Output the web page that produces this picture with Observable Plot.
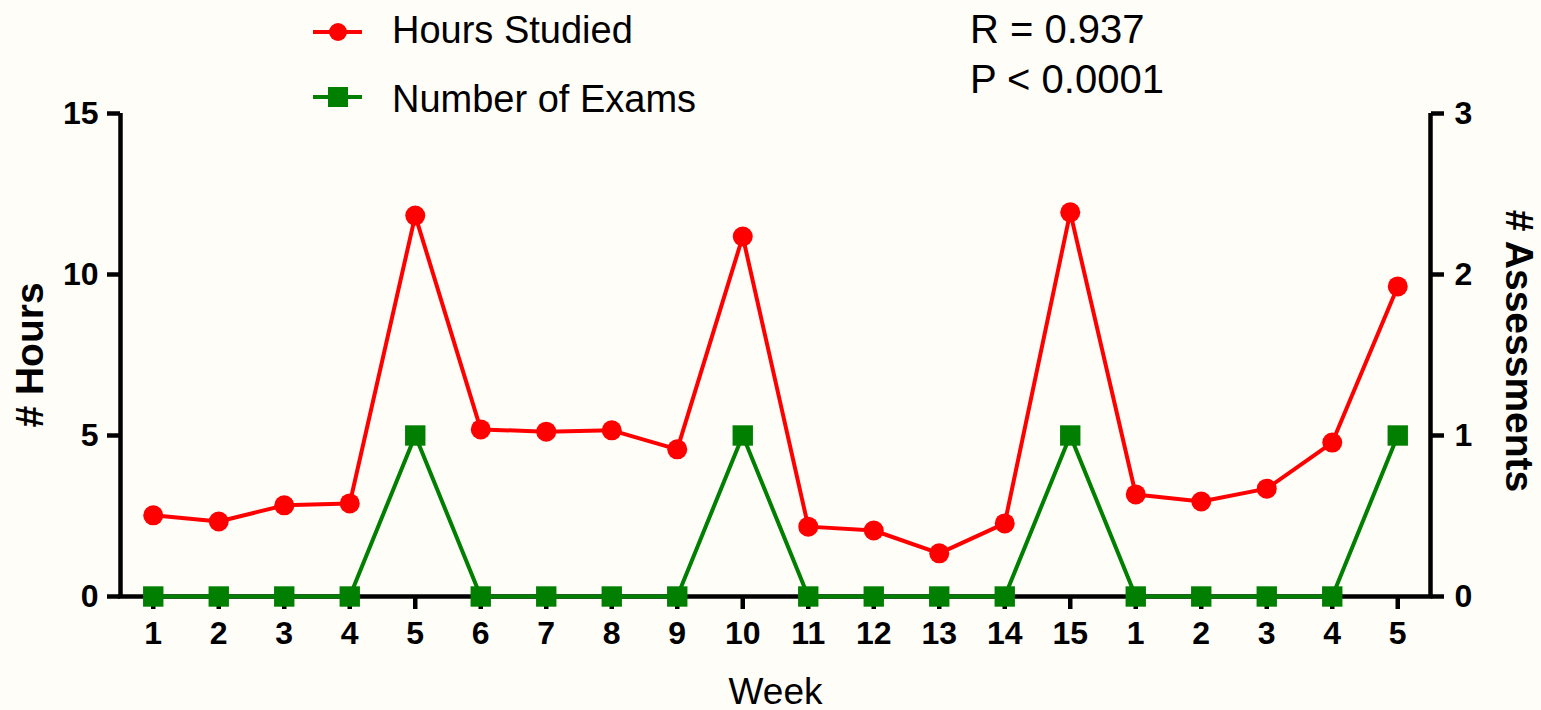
<!DOCTYPE html>
<html>
<head>
<meta charset="utf-8">
<script src="https://cdn.jsdelivr.net/npm/d3@7"></script>
<script src="https://cdn.jsdelivr.net/npm/@observablehq/plot@0.6"></script>
<style>
  html, body { margin: 0; padding: 0; background: #fffdf8; }
  #wrap { position: relative; width: 1541px; height: 710px; font-family: "Liberation Sans", Arial, sans-serif; }
  #chart svg { display: block; }
  .lg { position: absolute; font-size: 38px; color: #000; white-space: nowrap; line-height: 1; }
  .st { font-size: 40px; }
  #legendSvg { position: absolute; left: 0; top: 0; }
</style>
</head>
<body>
<div id="wrap">
  <div id="chart"></div>
  <svg id="legendSvg" width="400" height="130"></svg>
  <div class="lg" id="lg1" style="left:392px; top:11px;">Hours Studied</div>
  <div class="lg" id="lg2" style="left:392px; top:80px;">Number of Exams</div>
  <div class="lg st" id="st1" style="left:970px; top:9px;">R = 0.937</div>
  <div class="lg st" id="st2" style="left:970px; top:59px;">P &lt; 0.0001</div>
</div>
<script>
// ---- data ----
const weeks = ["1","2","3","4","5","6","7","8","9","10","11","12","13","14","15","1","2","3","4","5"];
const hoursStudied = [2.52, 2.33, 2.83, 2.89, 11.83, 5.19, 5.12, 5.16, 4.57, 11.18, 2.17, 2.05, 1.34, 2.27, 11.93, 3.17, 2.95, 3.35, 4.78, 9.63];
const numberOfExams = [0, 0, 0, 0, 1, 0, 0, 0, 0, 1, 0, 0, 0, 0, 1, 0, 0, 0, 0, 1];
const hoursTicks = [0, 5, 10, 15];
const examTicks = [0, 1, 2, 3];
const hoursPerExam = 5; // right axis (0–3) shares the left axis (0–15)

const data = weeks.map((w, i) => ({ i: i + 1, week: w, hours: hoursStudied[i], exams: numberOfExams[i] * hoursPerExam }));
const n = weeks.length;

const RED = "#ff0000";
const GREEN = "#007f00";
const AX = 4.5;

const chart = Plot.plot({
  width: 1541,
  height: 710,
  marginLeft: 120,
  marginRight: 111,
  marginTop: 113,
  marginBottom: 114,
  style: { background: "transparent", fontFamily: "Liberation Sans, Arial, sans-serif", overflow: "visible", color: "#000" },
  x: { domain: [0.5, n + 0.5], axis: null },
  y: { domain: [0, 15], axis: null },
  marks: [
    // axis lines
    Plot.ruleX([0.5, n + 0.5], { y1: 0, y2: 15, stroke: "#000", strokeWidth: AX }),
    Plot.ruleY([0], { x1: 0.5 - 0.035, x2: n + 0.5 + 0.035, stroke: "#000", strokeWidth: AX }),
    // left axis
    Plot.axisY({ anchor: "left", ticks: hoursTicks, tickSize: 13, tickPadding: 9, strokeWidth: AX, fontSize: 32, fontWeight: "bold", label: null }),
    // right axis
    Plot.axisY({ anchor: "right", ticks: examTicks.map(d => d * hoursPerExam), tickFormat: d => String(d / hoursPerExam), tickSize: 13, tickPadding: 11, strokeWidth: AX, fontSize: 32, fontWeight: "bold", label: null }),
    // bottom axis
    Plot.axisX({ anchor: "bottom", ticks: data.map(d => d.i), tickFormat: i => weeks[i - 1], tickSize: 13, tickPadding: 12, strokeWidth: AX, fontSize: 32, fontWeight: "bold", label: null }),
    // axis titles
    Plot.text(["# Hours"], { frameAnchor: "left", text: d => d, textAnchor: "middle", lineAnchor: "middle", rotate: -90, dx: -90, dy: 0, fontSize: 39, fontWeight: "bold" }),
    Plot.text(["# Assessments"], { frameAnchor: "right", text: d => d, textAnchor: "middle", lineAnchor: "middle", rotate: 90, dx: 88, dy: -4, fontSize: 39, fontWeight: "bold" }),
    Plot.text(["Week"], { frameAnchor: "bottom", text: d => d, textAnchor: "middle", lineAnchor: "middle", dy: 96, fontSize: 37 }),
    // series
    Plot.line(data, { x: "i", y: "hours", stroke: RED, strokeWidth: 4 }),
    Plot.dot(data, { x: "i", y: "hours", r: 10, fill: RED, stroke: "none" }),
    Plot.line(data, { x: "i", y: "exams", stroke: GREEN, strokeWidth: 4 }),
    Plot.dot(data, { x: "i", y: "exams", symbol: "square", r: 11.5, fill: GREEN, stroke: "none" })
  ]
});
document.getElementById("chart").appendChild(chart);

// legend symbols
const lg = d3.select("#legendSvg");
lg.append("line").attr("x1", 313).attr("x2", 362).attr("y1", 32).attr("y2", 32).attr("stroke", RED).attr("stroke-width", 4);
lg.append("circle").attr("cx", 338).attr("cy", 32).attr("r", 9).attr("fill", RED);
lg.append("line").attr("x1", 313).attr("x2", 362).attr("y1", 97).attr("y2", 97).attr("stroke", GREEN).attr("stroke-width", 4);
lg.append("rect").attr("x", 328).attr("y", 87).attr("width", 20).attr("height", 20).attr("fill", GREEN);
</script>
</body>
</html>
